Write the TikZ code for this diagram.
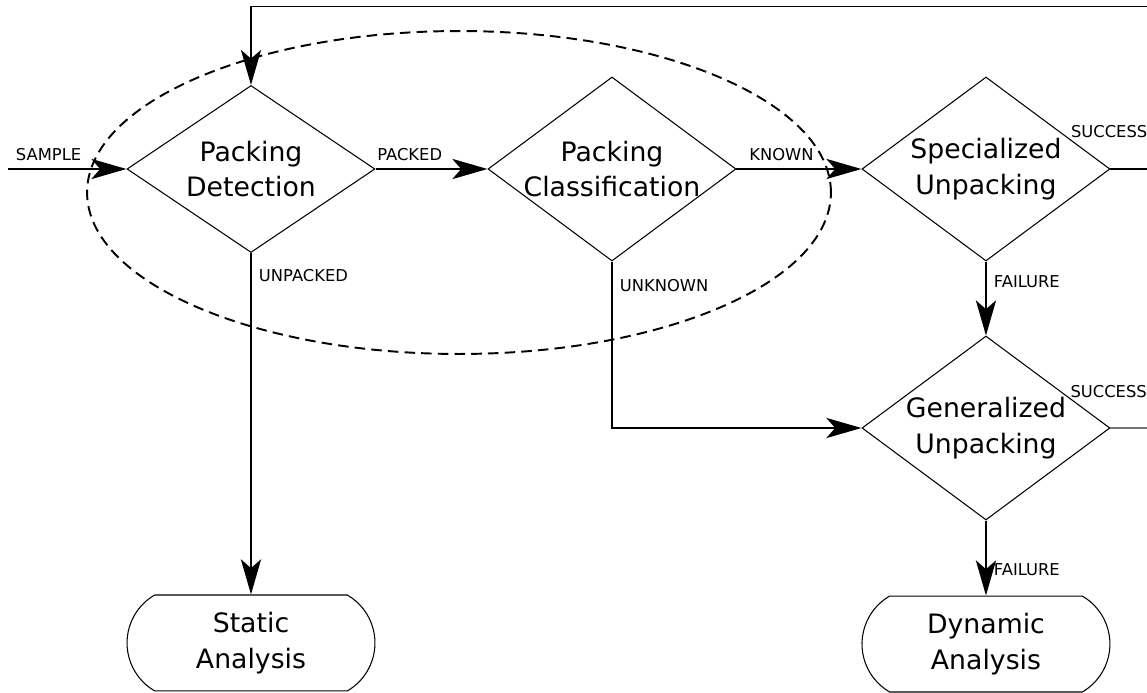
\documentclass[tikz,border=0pt]{standalone}
\usepackage{fontspec}
\setmainfont{DejaVu Sans}
\usetikzlibrary{arrows.meta,positioning,calc,shapes.geometric,shapes.misc}
\tikzset{
  decision/.style={diamond, draw=black, line width=0.6pt, aspect=1.348,
    minimum width=4.96cm, minimum height=#1, inner sep=0pt, align=center,
    font=\fontsize{15.2}{20.4}\selectfont},
  decision/.default=3.68cm,
  terminal/.style={rounded rectangle, rounded rectangle arc length=120,
    draw=black, line width=0.6pt,
    minimum width=4.96cm, minimum height=1.92cm, inner sep=0pt, align=center,
    font=\fontsize{15.2}{20.4}\selectfont},
  flowarr/.style={-{Stealth[length=20pt, width=11.5pt, inset=5pt]}, line width=1.1pt},
  backline/.style={line width=0.6pt, draw=black!55},
  edgelabel/.style={font=\fontsize{9.3}{11}\selectfont, inner sep=0pt},
  % ---- borde punteado del grupo de deteccion ----
  groupline/.style={line width=1.1pt, dash pattern=on 6pt off 3.5pt},
}
\begin{document}
\begin{tikzpicture}[x=0.02cm, y=-0.02cm]
    \useasboundingbox (0,0) rectangle (1147,693);
    \clip (0,0) rectangle (1147,693);
    \node[decision=3.34cm] (detect) at (251,169) {Packing\\Detection};
    \node[decision, inner xsep=-2.5pt, right=2.24cm of detect] (classify) {Packing\\Classification};
    \node[decision, right=2.5cm of classify] (special) {Specialized\\Unpacking};
    \node[decision, below=1.48cm of special] (general) {Generalized\\Unpacking};
    \node[terminal, below=6.83cm of detect] (static) {Static\\Analysis};
    \node[terminal, below=1.5cm of general] (dynamic) {Dynamic\\Analysis};
    \coordinate (sample) at (8,169);
    \coordinate (loop) at (1200,6.5);
    \draw[flowarr] (sample) -- node[edgelabel, pos=0, anchor=south west, xshift=4pt, yshift=4pt] {SAMPLE} (detect.west);
    \draw[flowarr] (detect.east) -- node[edgelabel, pos=0, anchor=south west, xshift=0.5pt, yshift=4pt] {PACKED} (classify.west);
    \draw[flowarr] (classify.east) -- node[edgelabel, pos=0, anchor=south west, xshift=6.8pt, yshift=4pt] {KNOWN} (special.west);
    \draw[flowarr] (detect.south) -- node[edgelabel, pos=0, anchor=north west, xshift=4pt, yshift=-8.8pt] {UNPACKED} (static.north);
    \draw[flowarr] (classify.south) |- node[edgelabel, pos=0, anchor=north west, xshift=4pt, yshift=-9.6pt] {UNKNOWN} (general.west);
    \draw[flowarr] (special.south) -- node[edgelabel, pos=0, anchor=north west, xshift=4pt, yshift=-7.4pt] {FAILURE} (general.north);
    \draw[flowarr] (general.south) -- node[edgelabel, pos=0, anchor=north west, xshift=4pt, yshift=-23.8pt] {FAILURE} (dynamic.north);
    \draw[flowarr] (special.east) node[edgelabel, anchor=base west, xshift=-23pt, yshift=18.1pt] {SUCCESS} -| (loop) -| (detect.north);
    \draw[backline] (general.east) node[edgelabel, anchor=base west, xshift=-23pt, yshift=17.5pt] {SUCCESS} -| (loop);
    \draw[groupline] (459,192.5) ellipse [x radius=7.44cm, y radius=3.23cm];
  \end{tikzpicture}
\end{document}
